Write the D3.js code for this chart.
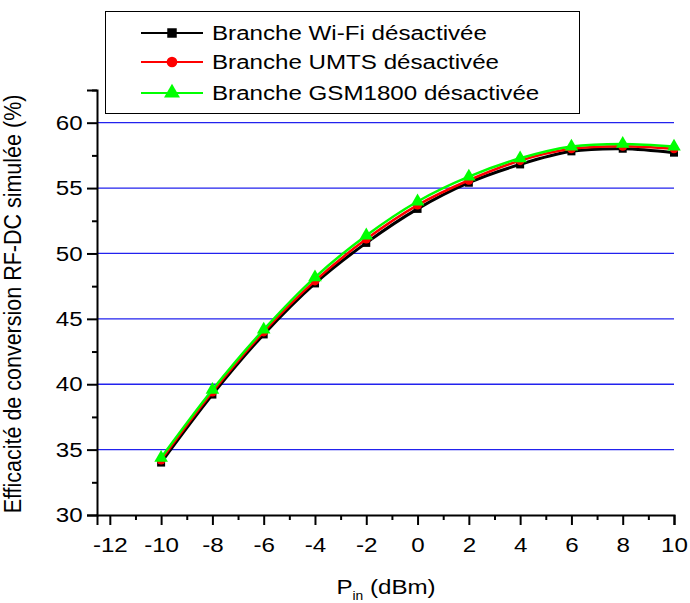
<!DOCTYPE html>
<html>
<head>
<meta charset="utf-8">
<script src="https://cdn.jsdelivr.net/npm/d3@7"></script>
<style>
  body { margin: 0; background: #fff; }
  text { font-family: "Liberation Sans", Arial, sans-serif; fill: #000; }
</style>
</head>
<body>
<div id="chart"></div>
<script>
// input power (dBm)
var pin = [-10, -8, -6, -4, -2, 0, 2, 4, 6, 8, 10];

// simulated RF-DC efficiency (%) for each disabled branch
var wifiOff = [34.1, 39.3, 43.9, 47.8, 50.9, 53.5, 55.5, 56.9, 57.9, 58.1, 57.8];
var umtsOff = [34.2, 39.4, 44.0, 47.9, 51.1, 53.7, 55.6, 57.1, 58.0, 58.2, 58.0];
var gsmOff  = [34.3, 39.5, 44.1, 48.1, 51.3, 53.9, 55.8, 57.2, 58.1, 58.3, 58.1];

var seriesNames = ["Branche Wi-Fi désactivée", "Branche UMTS désactivée", "Branche GSM1800 désactivée"];
var seriesColors = ["#000000", "#ff0000", "#00ff00"];
var seriesSymbols = [d3.symbolSquare, d3.symbolCircle, d3.symbolTriangle];

var xTicks = [-12, -10, -8, -6, -4, -2, 0, 2, 4, 6, 8, 10];
var yTicks = [30, 35, 40, 45, 50, 55, 60];
var gridValues = [35, 40, 45, 50, 55, 60];

var width = 690, height = 603;
var stretch = "scale(1.15,1)";   // the original text is a bit wider than Arial

var svg = d3.select("#chart").append("svg")
    .attr("width", width)
    .attr("height", height);

var x = d3.scaleLinear().domain([-12.5, 10]).range([97, 674]);
var y = d3.scaleLinear().domain([30, 62.5]).range([515, 90]);

// blue grid lines
svg.selectAll("line.grid")
    .data(gridValues)
    .enter()
    .append("line")
    .attr("class", "grid")
    .attr("x1", x(-12.5))
    .attr("x2", x(10))
    .attr("y1", function(d) { return y(d); })
    .attr("y2", function(d) { return y(d); })
    .attr("stroke", "#2222ee")
    .attr("stroke-width", 1.3);

// x axis: major ticks with labels, minor ticks in between
var xAxis = d3.axisBottom(x).tickValues(xTicks).tickSize(10).tickPadding(12)
    .tickFormat(function(d) { return d; });
var xMinor = d3.axisBottom(x).tickValues(d3.range(-11, 10, 2)).tickSize(5).tickFormat("");

var gx = svg.append("g").attr("transform", "translate(0," + y(30) + ")").call(xAxis);
svg.append("g").attr("transform", "translate(0," + y(30) + ")").call(xMinor)
    .select(".domain").remove();

var yAxis = d3.axisLeft(y).tickValues(yTicks).tickSize(10).tickPadding(4);
var yMinor = d3.axisLeft(y).tickValues(d3.range(32.5, 63, 5)).tickSize(5).tickFormat("");

var gy = svg.append("g").attr("transform", "translate(" + x(-12.5) + ",0)").call(yAxis);
svg.append("g").attr("transform", "translate(" + x(-12.5) + ",0)").call(yMinor)
    .select(".domain").remove();

svg.selectAll(".domain").attr("stroke", "#000").attr("stroke-width", 2);
svg.selectAll(".tick line").attr("stroke", "#000").attr("stroke-width", 2);
svg.selectAll(".tick text")
    .style("font-family", "'Liberation Sans', Arial, sans-serif")
    .style("font-size", "21px")
    .attr("fill", "#000")
    .attr("transform", stretch);
gy.selectAll(".tick text").attr("x", -12.5);

// axis titles
var xt = svg.append("text")
    .attr("transform", "translate(386,594) " + stretch)
    .attr("text-anchor", "middle")
    .style("font-size", "21px");
xt.append("tspan").text("P");
xt.append("tspan").attr("dy", 6).style("font-size", "12px").text("in");
xt.append("tspan").attr("dy", -6).text(" (dBm)");

svg.append("text")
    .attr("transform", "translate(21,304) rotate(-90) scale(1,1.15)")
    .attr("text-anchor", "middle")
    .style("font-size", "21.5px")
    .text("Efficacité de conversion RF-DC simulée (%)");

// curves
var allSeries = [wifiOff, umtsOff, gsmOff];
var line = d3.line()
    .x(function(d, i) { return x(pin[i]); })
    .y(function(d) { return y(d); })
    .curve(d3.curveCatmullRom);

var offsets = [1.2, 0, -1];
allSeries.forEach(function(vals, s) {
    var g = svg.append("g").attr("transform", "translate(0," + offsets[s] + ")");
    g.append("path")
        .datum(vals)
        .attr("d", line)
        .attr("fill", "none")
        .attr("stroke", seriesColors[s])
        .attr("stroke-width", s === 0 ? 3 : 2.5);
    g.selectAll("path.pt")
        .data(vals)
        .enter()
        .append("path")
        .attr("class", "pt")
        .attr("transform", function(d, i) { return "translate(" + x(pin[i]) + "," + y(d) + ")"; })
        .attr("d", d3.symbol().type(seriesSymbols[s]).size(s === 2 ? 80 : 64))
        .attr("fill", seriesColors[s]);
});

// legend
var legend = svg.append("g");
legend.append("rect")
    .attr("x", 105.5)
    .attr("y", 11.5)
    .attr("width", 474)
    .attr("height", 102)
    .attr("fill", "#fff")
    .attr("stroke", "#000")
    .attr("stroke-width", 1);

var rowY = [33, 62, 93];
seriesNames.forEach(function(name, s) {
    legend.append("line")
        .attr("x1", 141).attr("x2", 203)
        .attr("y1", rowY[s]).attr("y2", rowY[s])
        .attr("stroke", seriesColors[s])
        .attr("stroke-width", 2);
    legend.append("path")
        .attr("transform", "translate(172," + rowY[s] + ")")
        .attr("d", d3.symbol().type(seriesSymbols[s]).size(s === 2 ? 110 : 90))
        .attr("fill", seriesColors[s]);
    legend.append("text")
        .attr("transform", "translate(212," + (rowY[s] + 7) + ") " + stretch)
        .style("font-size", "21px")
        .text(name);
});
</script>
</body>
</html>
